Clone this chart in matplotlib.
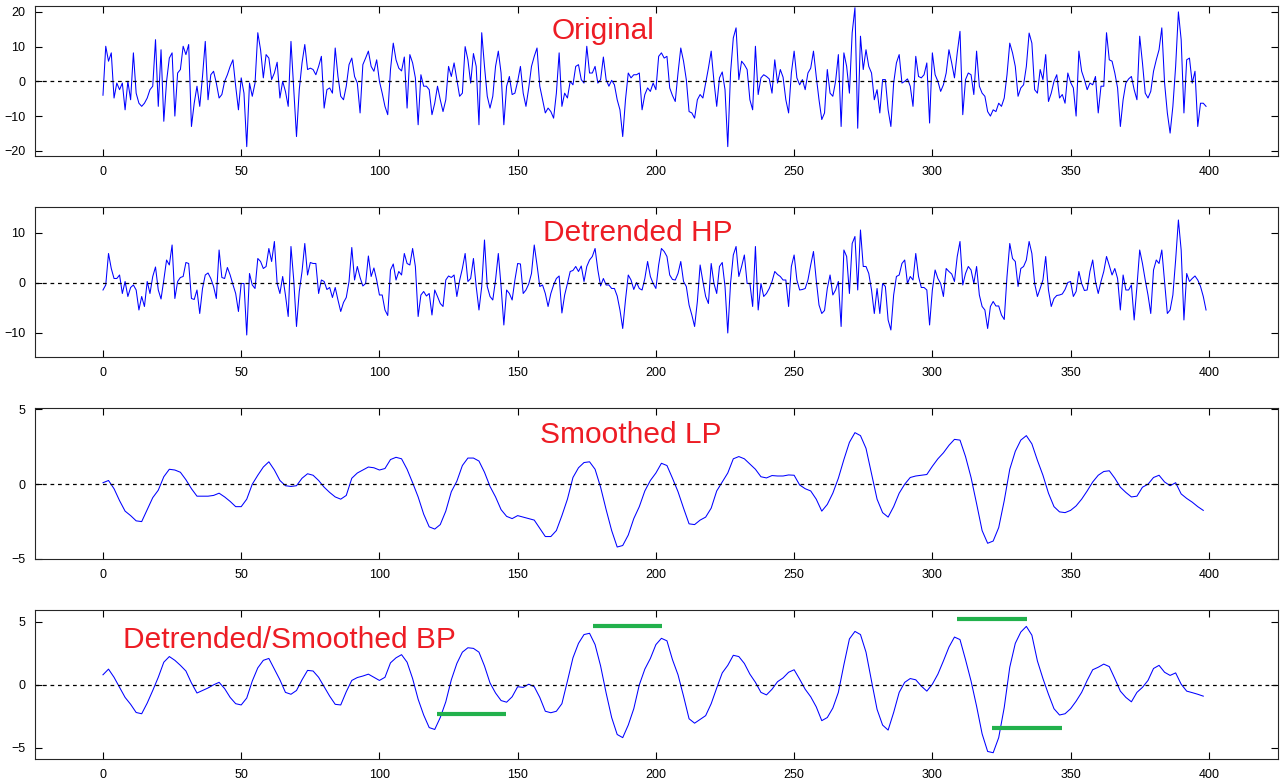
import numpy as np
import matplotlib
matplotlib.use("Agg")
import matplotlib.pyplot as plt

plt.rcParams['font.family'] = ['Liberation Sans', 'DejaVu Sans']

# raw signal, one value per sample (0..399)
original = [
    -4, 10.1, 5.8, 8.2, -4.8, -0.5, -2.4, -0.5, -8.2, 0,
    -5.3, 8.2, -3.4, -6.3, -7.2, -6.3, -4.8, -2.4, -1.4, 12,
    -7.2, 9.1, -11.5, 0, 6.7, 8.2, -10, 2.4, 3.4, 10.1,
    7.7, 10.6, -13, -6.3, -1.4, -7.2, 1.4, 11.5, -5.3, 1.9,
    2.9, -0.5, -4.8, -3.8, 0, 1.9, 4.3, 6.2, -1.4, -8.2,
    1, -3.4, -18.8, -0.5, -4.3, -0.5, 14, 9.1, 1, 7.7,
    6.7, 0.5, 2.4, 5.5, -4.8, 0, -2.9, -7.2, 11.5, -2.4,
    -15.9, -2.4, 5.3, 10.6, 3.4, 3.8, 3.4, 1.9, 4.3, 7.2,
    -7.7, -2.4, -1.9, -3.4, 9.6, 1.4, -4.3, -5.3, -1.4, 4.8,
    6.7, 1.4, -0.5, -9.1, 4.8, 6.7, 8.7, 4.3, 2.9, 6.2,
    0, -3.4, -7.2, -9.6, 3.4, 11, 6.2, 3.8, 3, 7,
    -7.7, 7.7, 5.3, 1, -12.5, 1.9, -1.4, -1.4, -2.4, -9.6,
    -6.3, -1.4, -5.3, -8.7, -5.3, 4.3, 1.4, 5.3, 0.5, -4.3,
    -3.4, 10, 6.2, -0.5, 8, 4.3, -12.5, 14, 4.3, -4.3,
    -7.7, -4.3, 4.3, 8.7, 2.4, -12.5, -1.4, 1.4, -3.8, -3.4,
    0, 4.3, -3.4, -7.2, -1.9, 4.3, 7.2, 9.6, -1.4, -5.3,
    -9.1, -7.7, -8.7, -10.6, -3.4, 8.2, -7.2, -3.4, -4.8, 0,
    -1, 4.3, 4.8, 0.5, -0.5, 10.1, 2.4, 2.4, 4.3, -0.5,
    0.5, 7, 0.5, -1.4, 0.3, -1, -5.3, -8.2, -15.9, -5.3,
    2.4, 1, 1.9, 1.9, 2.4, -8.2, -3.8, -1.9, -2.9, -0.5,
    -2.4, 7.2, 8.2, 6.7, 7.2, -1.9, -4.1, -5.8, 2.4, 9.6,
    5.8, 0.5, -8.7, -9.1, -10.6, -5.3, -3.8, -4.8, -0.5, 3.8,
    8.7, 0, -7.2, 1, 2.7, -2.4, -18.8, 2.4, 12.5, 15.4,
    0.5, 5.8, 4.8, 3.4, -5.3, -8.2, 10.1, -3.8, 1, 1.9,
    1.4, 0.7, -3.4, 6.2, -0.5, 3.4, 1.2, -5.3, -9.1, 2.4,
    8.7, 1, -1, 0.5, -2.4, 2.4, 3.8, 8.7, 1.4, -5.3,
    -11, -9.1, 3.4, -3.4, -4.3, 0, 7.7, -13, 8.2, 4.3,
    -3.4, 14, 21.2, -13.5, 13, 3.4, 9.1, 4.3, 2.4, -5.3,
    -2.4, -9.1, 0.5, 0.5, -8.2, -13, -0.5, 5.3, 7.7, -0.5,
    0, 0.7, -1.4, -7.2, 7.2, 1.4, 1, 1.9, 5.3, -12,
    8.2, 1.9, 0, -2.9, -1, 2.4, 9.1, 5.3, 1, 8.2,
    14.4, -9.6, 0.5, 2.4, 1.9, -3.8, 8.7, -1.4, -3.4, -4.3,
    -8.7, -10, -8.2, -8.7, -6.3, -7.2, -4.8, 1.9, 11, 8.2,
    4.3, -4.3, -1.9, -1, 4.3, 13.9, 11, -2.4, -3.4, 3.4,
    0.5, 7.7, -5.8, -3.4, 0, 1.9, -4.8, -3.8, -6.3, 2.4,
    -0.3, -1.9, -10, 8.7, 2.9, 0.5, -2.4, -0.5, -1, 1.4,
    -9.1, -1.4, -1.4, 14, 6.2, 5.8, 2.4, -1.9, -13, -5.3,
    -0.5, 0.7, 1.4, -2.4, -5.3, 13, 5.3, -3.4, -4.8, -2.9,
    2.9, 6.2, 9.1, 15.4, -0.5, -9.1, -14.9, -7.2, 4.3, 20,
    12, -9.1, 6.2, 6.7, -0.5, 2.9, -13, -6.3, -6.3, -7.2,
]

# detrended (high-pass) signal, one value per sample
detrended = [
    -1.4, -0.4, 5.9, 2.9, 0.9, 0.9, 1.6, -2.1, 0.3, -2.7,
    -0.9, -0.4, -1.4, -5.4, -2.7, -4.7, 0.3, -2.1, 1.3, 3.2,
    -1.4, -3.2, 0.6, 4.6, 3.6, 7.6, -3.1, 0.3, 1.1, 1.3,
    4.1, 3.9, -3.1, -3.3, -1.4, -6.1, -1.1, 1.6, 2.0, 0.9,
    -0.7, -3.1, 6.6, 1.1, 0.9, 3.1, 1.6, -0.3, -2.1, -5.7,
    -0.1, -0.1, -10.4, 1.9, -0.4, -1.1, 4.9, 4.3, 2.9, 3.3,
    6.9, 4.3, 8.3, -0.1, -2.1, 1.3, -2.4, -6.7, 7.3, 0.6,
    -8.7, -1.7, 2.3, 7.9, 1.6, 4.1, 3.9, 3.9, -2.1, 0.6,
    0.3, -1.3, -0.9, -2.9, -0.9, -3.4, -5.7, -3.9, -2.9, 0.3,
    7.1, 0.6, 3.3, 1.1, -0.6, -0.1, 5.4, 1.3, 3.0, 0.6,
    -2.4, -2.4, -5.4, -6.5, 2.6, 3.8, 0.6, 2.3, 1.6, 5.9,
    3.9, 3.6, 6.9, 3.3, -6.7, -2.4, -1.7, -2.6, -2.1, -6.4,
    -1.4, -2.7, -4.1, -4.7, 0.6, 1.4, 1.1, 1.6, -2.7, 0.5,
    2.9, 5.9, 0.3, 0.9, 4.9, -0.7, -5.4, -0.7, 8.6, -0.7,
    -2.7, -3.4, 0.6, 5.9, -0.7, -8.4, -1.4, -2.1, -3.4, 0.6,
    3.9, 3.8, -2.1, -1.4, -0.2, 1.9, 7.6, 3.6, -0.7, -0.4,
    -2.1, -4.7, -2.1, -0.4, 0.9, 1.4, -6.0, -2.4, -0.1, 2.3,
    2.5, 3.3, 2.3, 3.4, 0.3, 3.3, 4.6, 5.3, 6.9, 2.6,
    -0.6, 0.9, -0.4, -0.4, -1.1, -1.1, -2.6, -5.4, -9.1, -3.4,
    1.6, 0.6, -1.3, 0.1, -1.1, -1.4, 0.9, 4.3, 1.3, -0.1,
    -1.1, 3.6, 6.9, 6.3, 5.3, 1.6, 0.7, 0.6, 1.9, 4.3,
    0.3, -0.7, -4.4, -6.4, -8.7, -3.7, 3.6, 0.3, -2.7, -4.1,
    3.9, -0.1, -2.1, 3.3, 4.1, -0.7, -10, -0.1, 5.6, 7.3,
    1.3, 3.3, 5.6, -0.1, -0.1, -4.7, 7.3, -5.4, -0.1, -2.7,
    -2.1, -1.1, 0.3, 2.3, 1.7, 1.3, 0.6, 0.6, -4.7, 3.3,
    5.6, 0.6, -1.4, -1.3, -1.1, 0.6, 3.6, 6.3, 0.6, -4.4,
    -6.1, -5.5, -1.1, 1.6, -2.4, -1.4, 0.3, -8.7, 6.6, 5.3,
    -2.1, 7.9, 9.3, -1.4, 10.6, 3.3, 3.3, 1.9, -1.4, -6.1,
    -1.1, -6.1, -0.1, -0.7, -7.4, -9.4, -2.4, 1.3, 1.6, 3.9,
    4.6, -0.1, 1.3, 0.6, 5.9, 1.3, -0.9, -0.9, -1.4, -8.4,
    -1.4, 2.6, 0.9, -0.1, -2.7, 2.9, 2.3, 1.8, 0.3, 5.3,
    8.3, -0.4, 1.9, 3.3, 2.6, -0.1, 3.3, -2.4, -4.7, -5.4,
    -9.1, -4.7, -3.7, -4.6, -4.6, -6.4, -7.3, 1.3, 7.9, 4.9,
    4.3, -0.7, 2.9, 3.3, 4.6, 8.3, 5.9, -0.1, -2.7, -1.1,
    0.6, 5.3, -1.4, -4.7, -3.1, -2.5, -2.4, -2.2, -1.3, 0.1,
    0.3, -2.7, -1.7, 2.3, -0.1, -1.5, -1.4, 2.3, 4.6, 0.3,
    -2.1, 0.3, 2.3, 5.3, 3.5, 1.6, 2.9, 0.9, -5.4, 1.6,
    -1.4, -1.4, -0.4, -7.4, -0.7, 6.6, 3.9, 0.6, -2.4, -6.1,
    2.6, 4.6, 3.9, 6.6, 0.3, -6.1, -5.4, -2.4, 4.6, 12.6,
    6.6, -7.4, 1.9, 0.3, 0.9, 1.4, 0.6, -0.7, -2.7, -5.4,
]

# smoothed curves, read every 2nd sample (0, 2, ..., 398)
smooth_x = list(range(0, 400, 2))
smoothed = [
    0.1, 0.25, -0.3, -1.1, -1.8, -2.1, -2.45, -2.5, -1.7, -0.9,
    -0.4, 0.5, 1.0, 0.95, 0.8, 0.3, -0.3, -0.8, -0.8, -0.8,
    -0.75, -0.6, -0.85, -1.15, -1.5, -1.5, -1.0, 0, 0.6, 1.15,
    1.5, 0.95, 0.25, -0.1, -0.15, -0.1, 0.4, 0.7, 0.6, 0.25,
    -0.2, -0.55, -0.85, -1.0, -0.75, 0.4, 0.75, 0.95, 1.15, 1.1,
    0.95, 1.05, 1.65, 1.8, 1.7, 1.0, 0.1, -0.85, -2.0, -2.85,
    -3.0, -2.7, -1.8, -0.5, 0.2, 1.25, 1.75, 1.75, 1.55, 0.8,
    -0.15, -0.85, -1.7, -2.15, -2.3, -2.1, -2.2, -2.3, -2.4, -2.95,
    -3.5, -3.5, -3.1, -2.1, -1.0, 0.45, 1.1, 1.45, 1.5, 1.0,
    -0.2, -1.7, -3.1, -4.2, -4.1, -3.4, -2.3, -1.5, -0.45, 0.25,
    0.75, 1.4, 1.25, 0.4, -0.5, -1.6, -2.65, -2.7, -2.4, -2.2,
    -1.6, -0.45, 0.15, 0.75, 1.7, 1.85, 1.7, 1.35, 1.0, 0.5,
    0.42, 0.58, 0.55, 0.55, 0.62, 0.6, -0.05, -0.3, -0.45, -1.0,
    -1.8, -1.35, -0.6, 0.4, 1.65, 2.8, 3.45, 3.25, 2.4, 0.7,
    -1.0, -1.9, -2.2, -1.5, -0.6, 0.0, 0.45, 0.55, 0.6, 0.65,
    1.2, 1.7, 2.1, 2.6, 3.0, 2.95, 1.85, 0.45, -1.3, -3.1,
    -3.95, -3.8, -2.9, -1.1, 1.0, 2.2, 2.95, 3.25, 2.7, 1.6,
    0.6, -0.6, -1.5, -1.85, -1.9, -1.75, -1.45, -1.0, -0.45, 0.15,
    0.6, 0.85, 0.9, 0.4, -0.2, -0.55, -0.85, -0.8, -0.2, 0,
    0.45, 0.6, 0.15, -0.1, 0.1, -0.65, -0.95, -1.2, -1.5, -1.75,
]
bandpass = [
    0.8, 1.25, 0.6, -0.2, -1.0, -1.55, -2.2, -2.3, -1.45, -0.45,
    0.6, 1.8, 2.25, 1.95, 1.55, 1.1, 0.15, -0.65, -0.45, -0.25,
    0.0, 0.2, -0.3, -1.0, -1.5, -1.6, -1.05, 0.3, 1.35, 1.95,
    2.1, 1.25, 0.4, -0.6, -0.75, -0.45, 0.4, 1.15, 1.1, 0.6,
    -0.15, -0.9, -1.55, -1.6, -0.55, 0.35, 0.58, 0.7, 0.85, 0.6,
    0.35, 0.6, 1.75, 2.15, 2.4, 1.8, 0.5, -1.15, -2.4, -3.4,
    -3.55, -2.6, -1.35, 0.4, 1.7, 2.6, 2.95, 2.9, 2.6, 1.5,
    0.15, -0.65, -1.25, -1.38, -0.95, -0.15, -0.2, 0.05, -0.15, -1.0,
    -2.1, -2.22, -2.1, -1.5, 0.3, 2.15, 3.3, 4.0, 4.1, 3.2,
    1.5, -0.65, -2.6, -3.95, -4.2, -3.2, -1.9, 0.0, 1.25, 2.1,
    3.2, 3.7, 3.5, 2.0, 0.8, -0.9, -2.7, -3.05, -2.75, -2.45,
    -1.5, -0.25, 0.95, 1.55, 2.35, 2.25, 1.7, 0.85, 0.2, -0.6,
    -0.8, -0.35, 0.25, 0.55, 1.0, 1.2, 0.45, -0.35, -0.95, -1.75,
    -2.85, -2.6, -1.85, -0.6, 1.6, 3.65, 4.25, 4.0, 2.6, 0.3,
    -1.95, -3.2, -3.6, -2.2, -0.6, 0.2, 0.5, 0.4, -0.1, -0.5,
    0.05, 0.85, 1.9, 3.0, 3.8, 3.6, 2.0, 0.3, -1.7, -3.9,
    -5.3, -5.4, -4.2, -1.8, 1.4, 3.3, 4.2, 4.65, 3.95, 1.9,
    0.5, -0.75, -1.9, -2.4, -2.3, -1.9, -1.3, -0.6, 0.35, 1.2,
    1.4, 1.65, 1.45, 0.5, -0.5, -1.0, -1.35, -0.6, -0.2, 0.35,
    1.3, 1.55, 1.0, 0.75, 0.95, 0.05, -0.5, -0.62, -0.75, -0.9,
]

# green marker bars on the band-pass panel: (start, end, level)
bar_start = [120.8, 177.2, 308.9, 321.5]
bar_end = [145.7, 202.2, 334.2, 346.8]
bar_level = [-2.35, 4.7, 5.2, -3.4]

titles = ['Original', 'Detrended HP', 'Smoothed LP', 'Detrended/Smoothed BP']
title_pos = [(181, 14.4), (193.5, 10.0), (191, 3.27), (67.3, 3.57)]
yticks = [[-20, -10, 0, 10, 20], [-10, 0, 10], [-5, 0, 5], [-5, 0, 5]]
ylims = [(-21.5, 21.8), (-14.8, 15.2), (-5, 5.1), (-5.9, 5.95)]
xticks = list(range(0, 401, 50))

fig = plt.figure(figsize=(12.81, 7.82), dpi=100)
fig.patch.set_facecolor('white')

# axes boxes in figure fractions: left, bottom, width, height
boxes = [
    (0.0273, 0.8005, 0.9703, 0.1923),
    (0.0273, 0.5435, 0.9703, 0.1918),
    (0.0273, 0.2852, 0.9703, 0.1931),
    (0.0273, 0.0294, 0.9703, 0.1905),
]

n = np.arange(len(original))
series = [(n, original), (n, detrended), (smooth_x, smoothed), (smooth_x, bandpass)]

for i, box in enumerate(boxes):
    ax = fig.add_axes(box)
    xs, ys = series[i]
    ax.plot(xs, ys, color='#0000ff', linewidth=0.75)
    ax.axhline(0, color='black', linestyle=(0, (3, 3)), linewidth=0.9)
    ax.set_xlim(-24.6, 425)
    ax.set_ylim(*ylims[i])
    ax.set_xticks(xticks)
    ax.set_yticks(yticks[i])
    ax.tick_params(direction='in', top=True, right=True, length=5,
                   labelsize=9, width=0.8, pad=7)
    for s in ax.spines.values():
        s.set_color('#262626')
        s.set_linewidth(0.8)
    tx, ty = title_pos[i]
    ax.text(tx, ty, titles[i], color='#ed1c24', fontsize=21.5,
            ha='center', va='center')

# highlight bars on the last panel
ax = fig.axes[-1]
for x0, x1, lv in zip(bar_start, bar_end, bar_level):
    ax.plot([x0, x1], [lv, lv], color='#22b14c', linewidth=3, solid_capstyle='butt')

fig.savefig('out.png', dpi=100, facecolor='white')
